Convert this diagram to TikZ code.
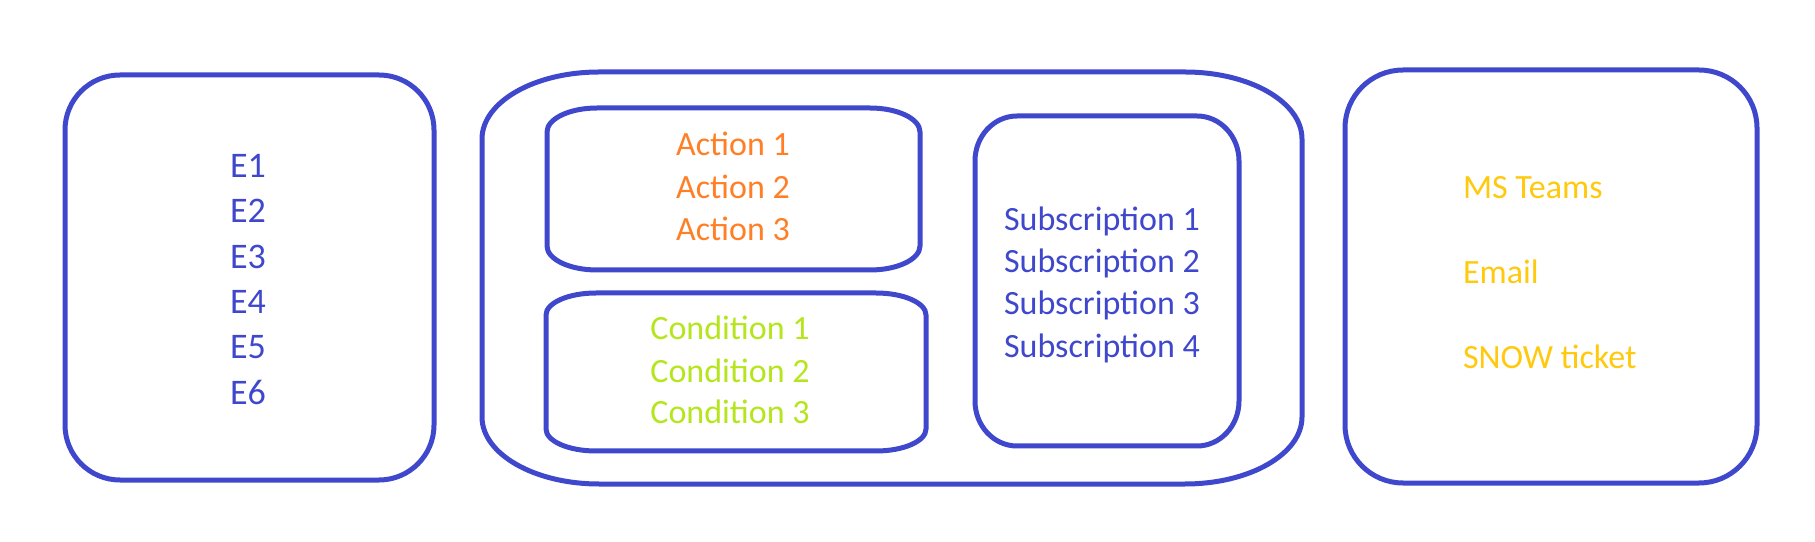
\documentclass[tikz,border=0pt]{standalone}
\usepackage{fontspec}
\setmainfont{Carlito}
\usepackage{tikz}
\usetikzlibrary{positioning}

\definecolor{indigo}{RGB}{63,72,204}
\definecolor{paintorange}{RGB}{255,127,39}
\definecolor{paintlime}{RGB}{181,230,29}
\definecolor{paintgold}{RGB}{255,201,14}

\begin{document}
\begin{tikzpicture}[x=0.5pt,y=0.5pt,
                frame/.style={indigo, line width=2.5pt},
                item/.style={anchor=base, inner sep=0pt, font=\fontsize{17pt}{20pt}\selectfont},
                event/.style={item, indigo, font=\fontsize{18pt}{21pt}\selectfont},
                action/.style={item, paintorange},
                cond/.style={item, paintlime},
                subs/.style={item, indigo},
                target/.style={item, paintgold, anchor=base west}]
                \useasboundingbox (0,0) rectangle (1815,541);

                % events
                \draw[frame] (120,466) -- (379,466) arc[start angle=90,end angle=0,radius=55]
                    -- (434,116) arc[start angle=0,end angle=-90,radius=55]
                    -- (120,61) arc[start angle=270,end angle=180,radius=55]
                    -- (65,411) arc[start angle=180,end angle=90,radius=55] -- cycle;

                % rule
                \draw[frame] (599,469) -- (1185,469) arc[start angle=90,end angle=0,x radius=117,y radius=67]
                    -- (1302,124) arc[start angle=0,end angle=-90,x radius=117,y radius=67]
                    -- (599,57) arc[start angle=270,end angle=180,x radius=117,y radius=67]
                    -- (482,402) arc[start angle=180,end angle=90,x radius=117,y radius=67] -- cycle;

                \draw[frame] (597,433) -- (870,433) arc[start angle=90,end angle=0,x radius=50,y radius=24]
                    -- (920,295) arc[start angle=0,end angle=-90,x radius=50,y radius=24]
                    -- (597,271) arc[start angle=270,end angle=180,x radius=50,y radius=24]
                    -- (547,409) arc[start angle=180,end angle=90,x radius=50,y radius=24] -- cycle;

                \draw[frame] (596,248) -- (876,248) arc[start angle=90,end angle=0,x radius=50,y radius=22]
                    -- (926,112) arc[start angle=0,end angle=-90,x radius=50,y radius=22]
                    -- (596,90) arc[start angle=270,end angle=180,x radius=50,y radius=22]
                    -- (546,226) arc[start angle=180,end angle=90,x radius=50,y radius=22] -- cycle;

                \draw[frame] (1017,425) -- (1197,425) arc[start angle=90,end angle=0,x radius=42,y radius=45]
                    -- (1239,140) arc[start angle=0,end angle=-90,x radius=42,y radius=45]
                    -- (1017,95) arc[start angle=270,end angle=180,x radius=42,y radius=45]
                    -- (975,380) arc[start angle=180,end angle=90,x radius=42,y radius=45] -- cycle;

                % outputs
                \draw[frame] (1403,471) -- (1699,471) arc[start angle=90,end angle=0,radius=58]
                    -- (1757,116) arc[start angle=0,end angle=-90,radius=58]
                    -- (1403,58) arc[start angle=270,end angle=180,radius=58]
                    -- (1345,413) arc[start angle=180,end angle=90,radius=58] -- cycle;

                \node[event] (E1) at (248,363.3) {E1};
                \node[event] (E2) at (248,318)   {E2};
                \node[event] (E3) at (248,272.7) {E3};
                \node[event] (E4) at (248,227.4) {E4};
                \node[event] (E5) at (248,182)   {E5};
                \node[event] (E6) at (248,136.8) {E6};

                \node[action] (act1) at (733,385)   {Action 1};
                \node[action] (act2) at (733,342.6) {Action 2};
                \node[action] (act3) at (733,300.5) {Action 3};

                \node[cond] (cond1) at (730,201.1) {Condition 1};
                \node[cond] (cond2) at (730,158.7) {Condition 2};
                \node[cond] (cond3) at (730,117.3) {Condition 3};

                \node[subs] (sub1) at (1102,310.8) {Subscription 1};
                \node[subs] (sub2) at (1102,268.4) {Subscription 2};
                \node[subs] (sub3) at (1102,226.3) {Subscription 3};
                \node[subs] (sub4) at (1102,183.9) {Subscription 4};

                \node[target] (teams) at (1462.6,342.6) {MS Teams};
                \node[target] (email) at (1462.6,257.4) {Email};
                \node[target] (snow)  at (1462.6,172.8) {SNOW ticket};
            \end{tikzpicture}
\end{document}
